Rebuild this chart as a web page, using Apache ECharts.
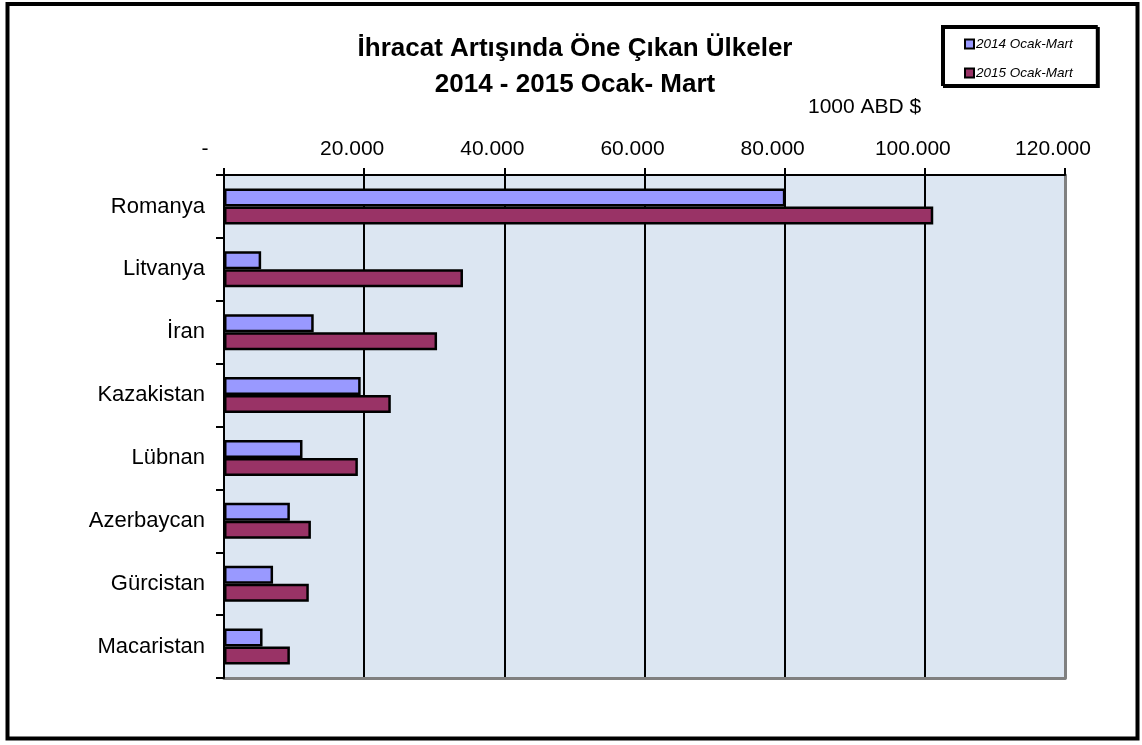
<!DOCTYPE html>
<html>
<head>
<meta charset="utf-8">
<script src="https://cdn.jsdelivr.net/npm/echarts@6/dist/echarts.min.js"></script>
<style>
  html, body { margin: 0; padding: 0; background: #fff; }
  #chart { width: 1142px; height: 745px; }
</style>
</head>
<body>
<div id="chart"></div>
<script>
// kategoriler (ülkeler)
const ulkeler = ["Romanya", "Litvanya", "İran", "Kazakistan", "Lübnan", "Azerbaycan", "Gürcistan", "Macaristan"];
// 1000 ABD $
const deger2014 = [80100, 5300, 12800, 19500, 11200, 9400, 7000, 5500];
const deger2015 = [101200, 34100, 30400, 23800, 19100, 12400, 12100, 9400];
const seriAdlari = ["2014 Ocak-Mart", "2015 Ocak-Mart"];
const xEtiketleri = ["-", "20.000", "40.000", "60.000", "80.000", "100.000", "120.000"];

const font = "'Liberation Sans', Arial, sans-serif";
const myChart = echarts.init(document.getElementById("chart"));

const option = {
  animation: false,
  backgroundColor: "#fff",
  textStyle: { fontFamily: font },
  title: [
    {
      text: "İhracat Artışında Öne Çıkan Ülkeler\n2014 - 2015 Ocak- Mart",
      left: 575,
      top: 31,
      textAlign: "center",
      padding: 0,
      textStyle: { fontFamily: font, fontSize: 26, fontWeight: "bold", color: "#000", lineHeight: 36 }
    },
    {
      text: "1000 ABD $",
      left: 808,
      top: 97,
      padding: 0,
      textStyle: { fontFamily: font, fontSize: 21, fontWeight: "normal", color: "#000" }
    }
  ],
  legend: {
    data: seriAdlari,
    orient: "vertical",
    left: 942,
    top: 26,
    padding: [11, 24, 5, 22],
    itemWidth: 9,
    itemHeight: 9,
    itemGap: 15,
    icon: "rect",
    borderColor: "#000",
    borderWidth: 2,
    backgroundColor: "#fff",
    shadowColor: "#000",
    shadowOffsetX: 2,
    shadowOffsetY: 2,
    shadowBlur: 0,
    textStyle: { fontFamily: font, fontSize: 13.5, fontStyle: "italic", color: "#000", padding: [0, 0, 0, -3] }
  },
  grid: {
    left: 224,
    right: 77,
    top: 175,
    bottom: 67,
    show: true,
    backgroundColor: "#DCE6F2",
    borderWidth: 0
  },
  xAxis: [
    {
      type: "value",
      position: "top",
      min: 0,
      max: 120000,
      interval: 20000,
      axisLine: { show: true, lineStyle: { color: "#000", width: 2 } },
      axisTick: { show: true, length: 7, lineStyle: { color: "#000", width: 2 } },
      splitLine: { show: true, lineStyle: { color: "#000", width: 2 } },
      axisLabel: {
        margin: 15,
        color: "#000",
        fontFamily: font,
        fontSize: 21,
        padding: [0, 24, 0, 0],
        formatter: function (v) {
          const idx = Math.round(v / 20000);
          return idx === 0 ? "{d|" + xEtiketleri[0] + "}" : xEtiketleri[idx];
        },
        rich: { d: { fontFamily: font, fontSize: 21, color: "#000", padding: [0, 14, 0, 0] } }
      }
    },
    {
      // alt kenar (gri)
      type: "value",
      position: "bottom",
      min: 0,
      max: 120000,
      axisLine: { show: true, onZero: false, lineStyle: { color: "#808080", width: 3 } },
      axisTick: { show: false },
      axisLabel: { show: false },
      splitLine: { show: false }
    }
  ],
  yAxis: [
    {
      type: "category",
      inverse: true,
      data: ulkeler,
      axisLine: { show: true, lineStyle: { color: "#000", width: 2 } },
      axisTick: { show: true, length: 8, lineStyle: { color: "#000", width: 2 } },
      axisLabel: { margin: 19, color: "#000", fontFamily: font, fontSize: 22 },
      splitLine: { show: false },
      z: 5
    },
    {
      // sağ kenar (gri)
      type: "category",
      inverse: true,
      position: "right",
      data: ulkeler,
      axisLine: { show: true, onZero: false, lineStyle: { color: "#808080", width: 3 } },
      axisTick: { show: false },
      axisLabel: { show: false },
      splitLine: { show: false }
    }
  ],
  series: [
    {
      name: seriAdlari[0],
      type: "bar",
      data: deger2014,
      barWidth: 18,
      barGap: "0%",
      itemStyle: { color: "#9999FF", borderColor: "#000", borderWidth: 2.5 }
    },
    {
      name: seriAdlari[1],
      type: "bar",
      data: deger2015,
      barWidth: 18,
      barGap: "0%",
      itemStyle: { color: "#993366", borderColor: "#000", borderWidth: 2.5 }
    }
  ],
  graphic: [
    {
      type: "rect",
      shape: { x: 7.5, y: 4, width: 1130, height: 734.5 },
      style: { fill: "none", stroke: "#000", lineWidth: 4 },
      silent: true
    }
  ]
};

myChart.setOption(option);
window.addEventListener("resize", () => { myChart.resize(); });
</script>
</body>
</html>
